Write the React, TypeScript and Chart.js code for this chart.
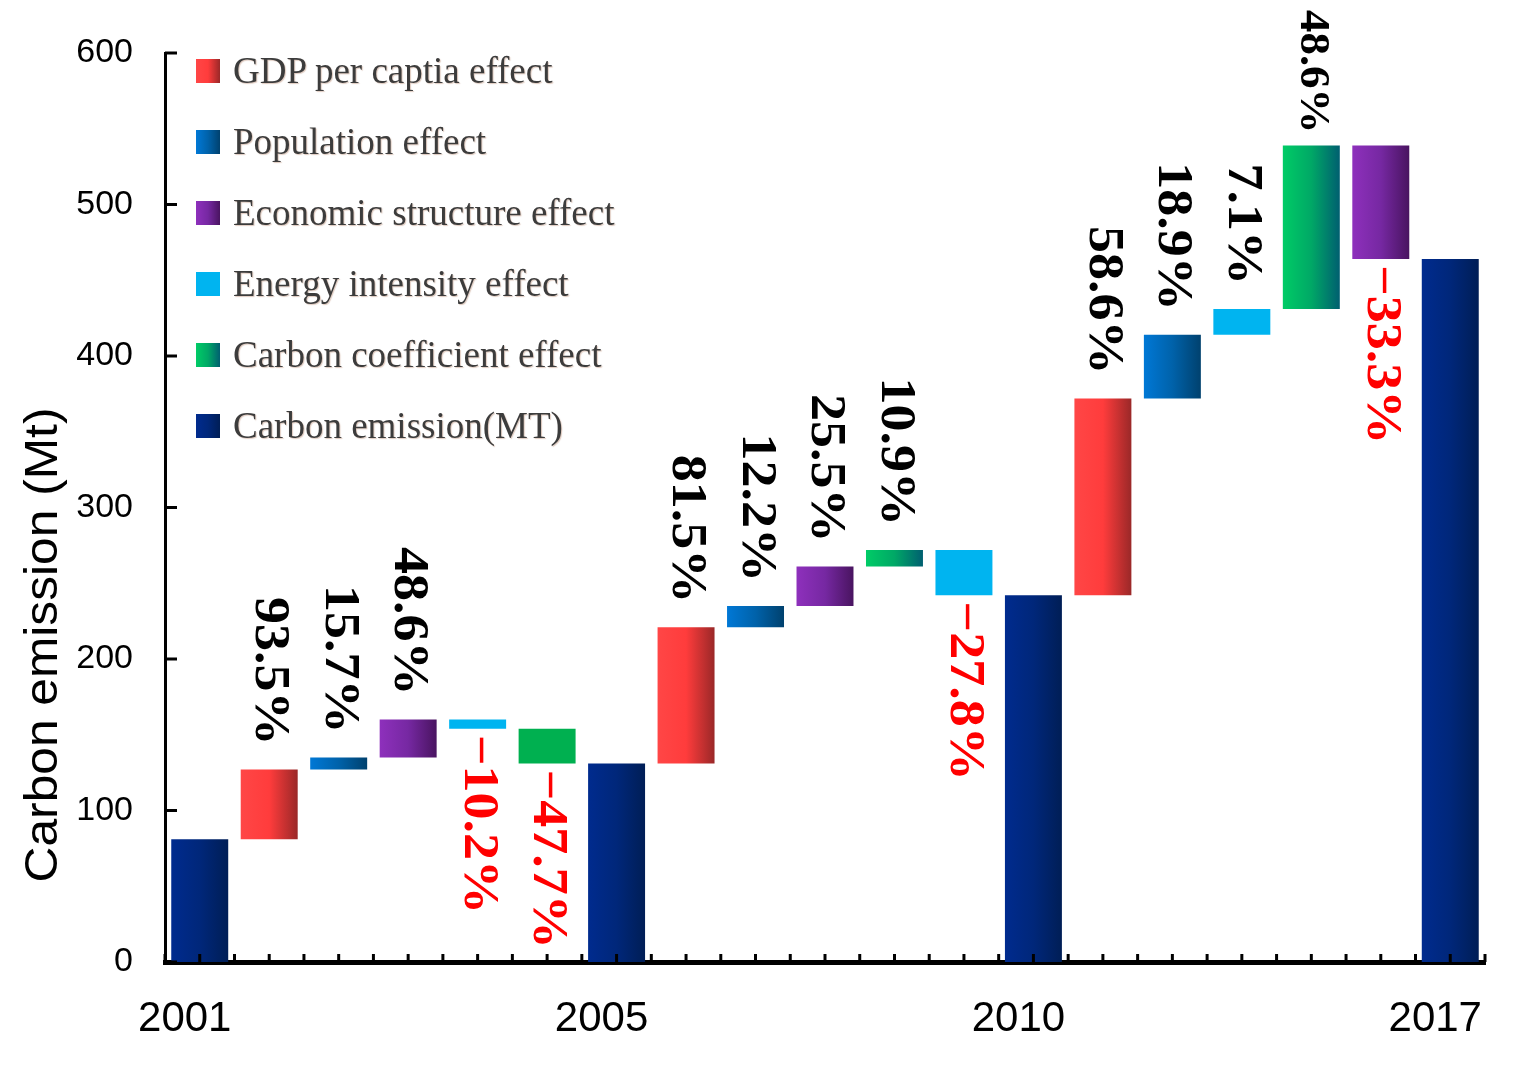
import React, { useEffect, useRef } from 'react';
import { Chart, registerables } from 'chart.js';

Chart.register(...registerables);

// ---------- data ----------
const categories = ['2001', '', '', '', '', '', '2005', '', '', '', '', '', '2010', '', '', '', '', '', '2017'];
const totals = [81, 131, 242, 464]; // carbon emission (Mt) in 2001, 2005, 2010, 2017

// effect values (Mt) for periods 2001-2005, 2005-2010, 2010-2017
const gdpEffect = [46, 90, 130];
const populationEffect = [8, 14, 42];
const structureEffect = [25, 26, -75];
const intensityEffect = [-6, -30, 17];
const coefficientEffect = [-23, 11, 108];

// contribution shares (%)
const gdpShare = [93.5, 81.5, 58.6];
const populationShare = [15.7, 12.2, 18.9];
const structureShare = [48.6, 25.5, -33.3];
const intensityShare = [-10.2, -27.8, 7.1];
const coefficientShare = [-47.7, 10.9, 48.6];

// order of effect bars inside each period
const periodOrder = [
  ['gdp', 'population', 'structure', 'intensity', 'coefficient'],
  ['gdp', 'population', 'structure', 'coefficient', 'intensity'],
  ['gdp', 'population', 'intensity', 'coefficient', 'structure'],
];

// ---------- styles ----------
const SANS = '"Liberation Sans", Arial, sans-serif';
const SERIF = '"Liberation Serif", "Times New Roman", serif';
const TEXT_STRETCH = 1.08;

type Effect = { key: string; label: string; values: number[]; shares: number[]; stops: string[] };

const effects: Effect[] = [
  { key: 'gdp', label: 'GDP per captia effect', values: gdpEffect, shares: gdpShare, stops: ['#ff4646', '#ff3c3c', '#9a2828'] },
  { key: 'population', label: 'Population effect', values: populationEffect, shares: populationShare, stops: ['#0078d6', '#0062aa', '#00416e'] },
  { key: 'structure', label: 'Economic structure effect', values: structureEffect, shares: structureShare, stops: ['#8e30bc', '#7628a2', '#491460'] },
  { key: 'intensity', label: 'Energy intensity effect', values: intensityEffect, shares: intensityShare, stops: ['#00b4f0', '#00b4f0', '#00b4f0'] },
  { key: 'coefficient', label: 'Carbon coefficient effect', values: coefficientEffect, shares: coefficientShare, stops: ['#00cc66', '#00a866', '#005f70'] },
];
const totalStops = ['#002b8e', '#00277a', '#001e56'];
const totalLabel = 'Carbon emission(MT)';

const N = categories.length;

function buildSeries() {
  const data: Record<string, any[]> = {};
  const shares: Record<string, (number | null)[]> = {};
  effects.forEach((e) => {
    data[e.key] = new Array(N).fill(null);
    shares[e.key] = new Array(N).fill(null);
  });
  const totalData: any[] = new Array(N).fill(null);
  totals.forEach((t, p) => {
    totalData[p * 6] = [0, t];
  });
  periodOrder.forEach((order, p) => {
    let level = totals[p];
    order.forEach((k, j) => {
      const e = effects.find((x) => x.key === k)!;
      const idx = p * 6 + 1 + j;
      const v = e.values[p];
      data[k][idx] = [level, level + v];
      shares[k][idx] = e.shares[p];
      level += v;
    });
  });
  return { data, shares, totalData };
}

function gradientFill(stops: string[], flatFirst?: string) {
  return (ctx: any) => {
    const chart = ctx.chart;
    const xs = chart.scales && chart.scales.x;
    if (ctx.type !== 'data' || !xs || !chart.chartArea) return stops[0];
    if (flatFirst && ctx.dataIndex < 6) return flatFirst;
    const cx = xs.getPixelForValue(ctx.dataIndex);
    const w = (xs.width / N) * 0.82;
    const g = chart.ctx.createLinearGradient(cx - w / 2, 0, cx + w / 2, 0);
    g.addColorStop(0, stops[0]);
    g.addColorStop(0.5, stops[1]);
    g.addColorStop(1, stops[2]);
    return g;
  };
}

const cssGrad = (s: string[]) => `linear-gradient(to right, ${s[0]}, ${s[1]} 50%, ${s[2]})`;

export default function App() {
  const canvasRef = useRef<HTMLCanvasElement | null>(null);

  useEffect(() => {
    document.body.style.margin = '0';
    document.body.style.overflow = 'hidden';
    const canvas = canvasRef.current;
    if (!canvas) return;
    const { data, shares, totalData } = buildSeries();

    const datasets: any[] = effects.map((e) => ({
      label: e.label,
      data: data[e.key],
      backgroundColor: gradientFill(e.stops, e.key === 'coefficient' ? '#00b050' : undefined),
      borderWidth: 0,
    }));
    datasets.push({
      label: totalLabel,
      data: totalData,
      backgroundColor: gradientFill(totalStops),
      borderWidth: 0,
    });

    const decor = {
      id: 'decor',
      afterDatasetsDraw(chart: any) {
        const c = chart.ctx;
        // share labels (rotated, reading top to bottom)
        effects.forEach((e, di) => {
          const meta = chart.getDatasetMeta(di);
          meta.data.forEach((el: any, i: number) => {
            const s = shares[e.key][i];
            if (s === null || s === undefined) return;
            const top = Math.min(el.y, el.base);
            const bottom = Math.max(el.y, el.base);
            const txt = (s < 0 ? '\u2212' : '') + Math.abs(s).toFixed(1) + '%';
            c.save();
            c.font = `bold 50px ${SERIF}`;
            c.fillStyle = s < 0 ? '#ff0000' : '#000000';
            c.textBaseline = 'middle';
            const len = c.measureText(txt).width * TEXT_STRETCH;
            let k = 1;
            if (s >= 0) {
              let end = top - 24;
              if (end - len < 10) {
                end = top - 12;
                k = Math.min(1, (end - 10) / len);
              }
              c.translate(el.x, end);
              c.rotate(Math.PI / 2);
              c.scale(TEXT_STRETCH * k, k);
              c.textAlign = 'right';
            } else {
              c.translate(el.x, bottom + 6);
              c.rotate(Math.PI / 2);
              c.scale(TEXT_STRETCH, 1);
              c.textAlign = 'left';
            }
            c.fillText(txt, 0, 0);
            c.restore();
          });
        });
      },
      afterDraw(chart: any) {
        const c = chart.ctx;
        const xs = chart.scales.x;
        const ys = chart.scales.y;
        c.save();
        c.strokeStyle = '#000';
        c.lineWidth = 3;
        // inward y ticks
        ys.ticks.forEach((t: any) => {
          const py = ys.getPixelForValue(t.value);
          c.beginPath();
          c.moveTo(ys.right, py);
          c.lineTo(ys.right + 12, py);
          c.stroke();
        });
        // inward x ticks at every half category
        for (let k = 0; k <= N * 2; k++) {
          const px = xs.getPixelForValue(k / 2 - 0.5);
          c.beginPath();
          c.moveTo(px, xs.top);
          c.lineTo(px, xs.top - 8);
          c.stroke();
        }
        // y axis title
        c.translate(44, 645);
        c.rotate(-Math.PI / 2);
        c.scale(TEXT_STRETCH, 1);
        c.font = `46px ${SANS}`;
        c.fillStyle = '#000';
        c.textAlign = 'center';
        c.textBaseline = 'middle';
        c.fillText('Carbon emission (Mt)', 0, 0);
        c.restore();
      },
    };

    const chart = new Chart(canvas, {
      type: 'bar',
      data: { labels: categories, datasets },
      options: {
        animation: false,
        responsive: true,
        maintainAspectRatio: false,
        layout: { padding: { top: 53, right: 31, bottom: 0, left: 0 } },
        plugins: { legend: { display: false }, tooltip: { enabled: false } },
        datasets: { bar: { grouped: false, barPercentage: 0.82, categoryPercentage: 1 } } as any,
        scales: {
          x: {
            grid: { display: false, drawTicks: false },
            border: { display: true, color: '#000', width: 5 },
            ticks: {
              autoSkip: false,
              maxRotation: 0,
              minRotation: 0,
              color: '#000',
              font: { family: SANS, size: 42 },
              padding: 32,
              labelOffset: -15,
            },
            afterFit(s: any) {
              s.height = 120;
              s.paddingLeft = 0;
              s.paddingRight = 0;
            },
          },
          y: {
            min: 0,
            max: 600,
            ticks: { stepSize: 100, color: '#000', font: { family: SANS, size: 34 }, padding: 32 },
            grid: { display: false, drawTicks: false },
            border: { display: true, color: '#000', width: 3 },
            afterFit(s: any) {
              s.width = 165;
            },
          },
        },
      } as any,
      plugins: [decor],
    });
    return () => chart.destroy();
  }, []);

  const legendItems = [
    ...effects.map((e) => ({ label: e.label, bg: e.key === 'intensity' ? e.stops[0] : cssGrad(e.stops) })),
    { label: totalLabel, bg: cssGrad(totalStops) },
  ];

  return (
    <div style={{ position: 'relative', width: 1516, height: 1082, background: '#fff' }}>
      <canvas ref={canvasRef} />
      <div style={{ position: 'absolute', left: 196, top: 35, pointerEvents: 'none' }}>
        {legendItems.map((it) => (
          <div key={it.label} style={{ height: 71, display: 'flex', alignItems: 'center' }}>
            <span style={{ width: 24, height: 24, background: it.bg, display: 'inline-block', marginRight: 13 }} />
            <span
              style={{
                fontFamily: SERIF,
                fontSize: 37,
                color: '#3c3c3c',
                textShadow: '1px 1px 1px rgba(160,100,70,0.35)',
                whiteSpace: 'nowrap',
              }}
            >
              {it.label}
            </span>
          </div>
        ))}
      </div>
    </div>
  );
}
